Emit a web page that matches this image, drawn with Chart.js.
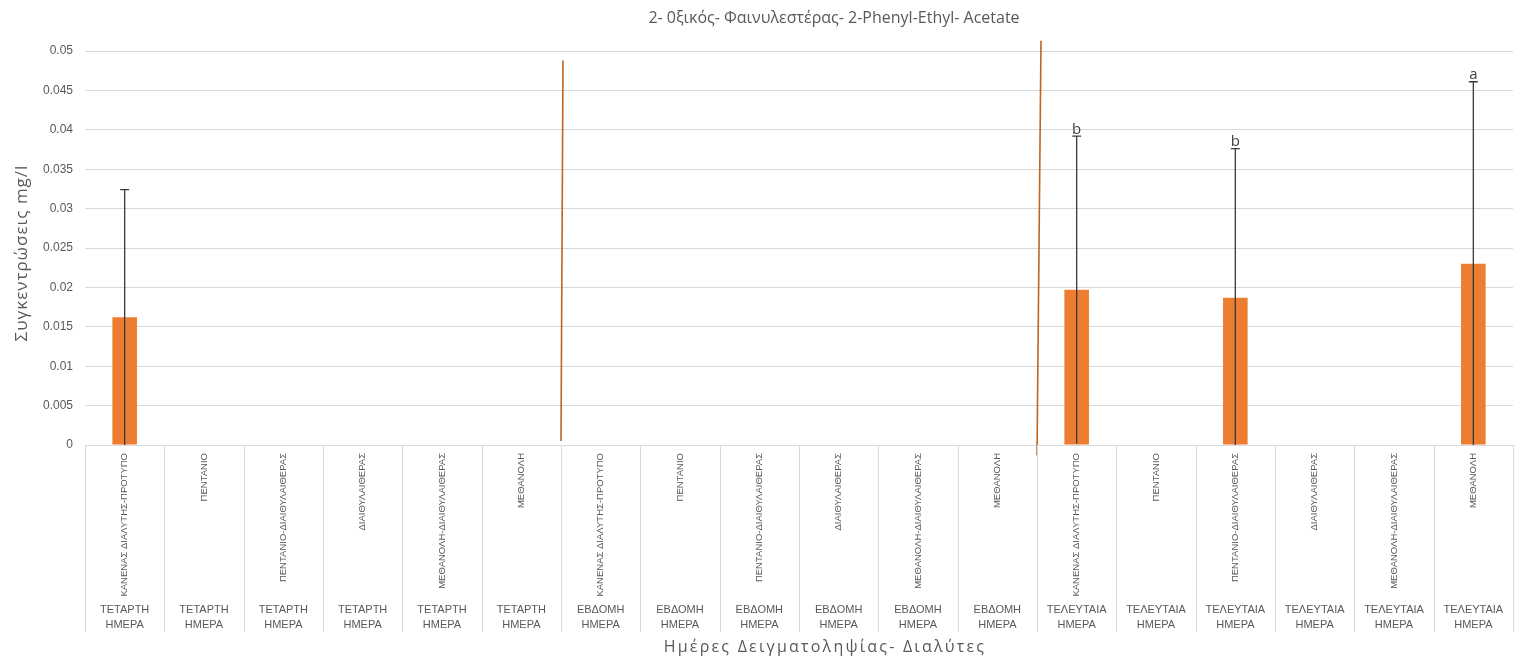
<!DOCTYPE html>
<html>
<head>
<meta charset="utf-8">
<script src="https://cdn.jsdelivr.net/npm/chart.js@4.4.1/dist/chart.umd.min.js"></script>
<style>
  html, body { margin: 0; padding: 0; background: #ffffff; }
  #wrap { width: 1522px; height: 657px; position: relative; }
</style>
</head>
<body>
<div id="wrap"><canvas id="chart"></canvas></div>
<script>
// Solvents tested on each sampling day
const solvents = [
  'ΚΑΝΕΝΑΣ ΔΙΑΛΥΤΗΣ-ΠΡΟΤΥΠΟ',
  'ΠΕΝΤΑΝΙΟ',
  'ΠΕΝΤΑΝΙΟ-ΔΙΑΙΘΥΛΑΙΘΕΡΑΣ',
  'ΔΙΑΙΘΥΛΑΙΘΕΡΑΣ',
  'ΜΕΘΑΝΟΛΗ-ΔΙΑΙΘΥΛΑΙΘΕΡΑΣ',
  'ΜΕΘΑΝΟΛΗ'
];
// Sampling days (outer axis level)
const samplingDays = [
  ['ΤΕΤΑΡΤΗ', 'ΗΜΕΡΑ'],
  ['ΕΒΔΟΜΗ', 'ΗΜΕΡΑ'],
  ['ΤΕΛΕΥΤΑΙΑ', 'ΗΜΕΡΑ']
];
const solventLabels = samplingDays.flatMap(() => solvents);
const dayLabels = samplingDays.flatMap(d => solvents.map(() => d));

// Mean concentration of 2-phenylethyl acetate (mg/l)
const concentrations = [
  0.0162, 0, 0, 0, 0, 0,
  0, 0, 0, 0, 0, 0,
  0.0197, 0, 0.0187, 0, 0, 0.0230
];
// Standard deviation of each mean
const stdDev = [
  0.0162, 0, 0, 0, 0, 0,
  0, 0, 0, 0, 0, 0,
  0.0195, 0, 0.0189, 0, 0, 0.0231
];
// Significance groups
const groupLetters = [
  '', '', '', '', '', '',
  '', '', '', '', '', '',
  'b', '', 'b', '', '', 'a'
];
// Value axis
const yMin = 0, yMax = 0.05, yStep = 0.005;

const chartTitle = '2- 0ξικός- Φαινυλεστέρας- 2-Phenyl-Ethyl- Acetate';
const yTitle = 'Συγκεντρώσεις mg/l';
const xTitle = 'Ημέρες Δειγματοληψίας- Διαλύτες';

const TEXT = '#595959';
const GRID = '#d9d9d9';
const BAR = '#ED7D31';

// Vertical dividers between sampling days (index of last category before divider)
const dividers = [
  { after: 5, from: 0.0005, to: 0.0488, lean: 2 },
  { after: 11, from: -0.0013, to: 0.0513, lean: 4 }
];

const errorBars = {
  id: 'errorBars',
  afterDatasetsDraw(chart) {
    const { ctx, chartArea } = chart;
    const y = chart.scales.y;
    const meta = chart.getDatasetMeta(0);
    ctx.save();
    meta.data.forEach((bar, i) => {
      const sd = stdDev[i];
      if (!sd) return;
      const v = concentrations[i];
      const yTop = y.getPixelForValue(v + sd);
      const yBot = Math.min(chartArea.bottom, y.getPixelForValue(v - sd));
      ctx.strokeStyle = '#3a3a3a';
      ctx.lineWidth = 1.3;
      ctx.beginPath();
      ctx.moveTo(bar.x, yTop);
      ctx.lineTo(bar.x, yBot);
      ctx.moveTo(bar.x - 4.5, yTop);
      ctx.lineTo(bar.x + 4.5, yTop);
      ctx.stroke();
      if (groupLetters[i]) {
        ctx.fillStyle = '#404040';
        ctx.font = '15px "Open Sans", sans-serif';
        ctx.textAlign = 'center';
        ctx.textBaseline = 'bottom';
        ctx.fillText(groupLetters[i], bar.x, yTop + 1);
      }
    });
    ctx.restore();
  }
};

const dayDividers = {
  id: 'dayDividers',
  afterDatasetsDraw(chart) {
    const { ctx } = chart;
    const x = chart.scales.x, y = chart.scales.y;
    ctx.save();
    ctx.strokeStyle = '#C0651F';
    ctx.lineWidth = 1.6;
    dividers.forEach(d => {
      const px = (x.getPixelForValue(d.after) + x.getPixelForValue(d.after + 1)) / 2;
      ctx.beginPath();
      ctx.moveTo(px, y.getPixelForValue(d.from));
      ctx.lineTo(px + d.lean, y.getPixelForValue(d.to));
      ctx.stroke();
    });
    ctx.restore();
  }
};

const categorySeparators = {
  id: 'categorySeparators',
  afterDraw(chart) {
    const { ctx, chartArea } = chart;
    const x = chart.scales.x, x2 = chart.scales.x2;
    const n = solventLabels.length;
    ctx.save();
    ctx.strokeStyle = GRID;
    ctx.lineWidth = 1;
    for (let i = 0; i <= n; i++) {
      const px = Math.round(x.getPixelForValue(i - 0.5)) + 0.5;
      ctx.beginPath();
      ctx.moveTo(px, chartArea.bottom);
      ctx.lineTo(px, x2.top + 35);
      ctx.stroke();
    }
    ctx.restore();
  }
};

// Chart, value-axis and category-axis titles
const titles = {
  id: 'titles',
  afterDraw(chart) {
    const { ctx, chartArea, height } = chart;
    const cx = (chartArea.left + chartArea.right) / 2;
    const cy = (chartArea.top + chartArea.bottom) / 2;
    ctx.save();
    ctx.fillStyle = TEXT;
    ctx.textAlign = 'center';
    ctx.textBaseline = 'middle';
    ctx.font = '16px "Open Sans", sans-serif';
    ctx.fillText(chartTitle, cx + 35, 18);
    if ('letterSpacing' in ctx) ctx.letterSpacing = '2.2px';
    ctx.font = '16px "Open Sans", sans-serif';
    ctx.fillText(xTitle, cx + 26, height - 10);
    ctx.translate(22, cy + 5);
    ctx.rotate(-Math.PI / 2);
    if ('letterSpacing' in ctx) ctx.letterSpacing = '1px';
    ctx.font = '17px "Open Sans", sans-serif';
    ctx.fillText(yTitle, 0, 0);
    ctx.restore();
  }
};

new Chart(document.getElementById('chart'), {
  type: 'bar',
  data: {
    labels: solventLabels,
    datasets: [{
      data: concentrations,
      backgroundColor: BAR,
      borderWidth: 0,
      barPercentage: 0.31,
      categoryPercentage: 1
    }]
  },
  options: {
    responsive: true,
    maintainAspectRatio: false,
    animation: false,
    layout: { padding: { left: 0, right: 9, top: 51, bottom: 0 } },
    plugins: {
      legend: { display: false },
      tooltip: { enabled: false },
      title: { display: false }
    },
    scales: {
      y: {
        min: yMin,
        max: yMax,
        afterFit(s) { s.width = 85; },
        ticks: {
          stepSize: yStep,
          color: TEXT,
          padding: 12,
          font: { family: '"Liberation Sans", sans-serif', size: 12 },
          callback: v => String(+v.toFixed(3))
        },
        grid: { color: GRID, lineWidth: 1, drawTicks: false },
        border: { display: false }
      },
      x: {
        type: 'category',
        position: 'bottom',
        weight: 0,
        offset: true,
        afterFit(s) { s.height = 152; },
        grid: { display: false, drawTicks: false },
        border: { display: false },
        ticks: {
          autoSkip: false,
          minRotation: 90,
          maxRotation: 90,
          padding: 8,
          color: TEXT,
          font: { family: '"Liberation Sans", sans-serif', size: 9.5 }
        }
      },
      x2: {
        type: 'category',
        position: 'bottom',
        weight: 1,
        offset: true,
        labels: dayLabels,
        afterFit(s) { s.height = 60; },
        grid: { display: false, drawTicks: false },
        border: { display: false },
        ticks: {
          autoSkip: false,
          maxRotation: 0,
          minRotation: 0,
          padding: 5,
          color: TEXT,
          font: { family: '"Liberation Sans", sans-serif', size: 11, lineHeight: '15px' }
        }
      }
    }
  },
  plugins: [errorBars, dayDividers, categorySeparators, titles]
});
</script>
</body>
</html>
